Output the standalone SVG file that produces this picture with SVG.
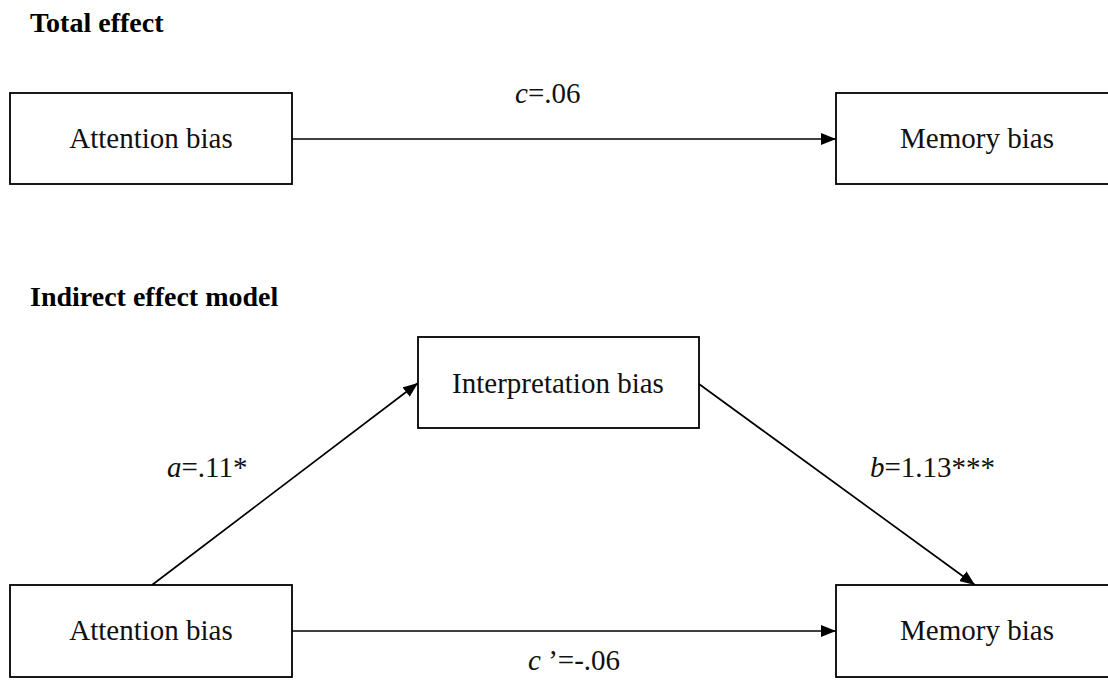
<svg xmlns="http://www.w3.org/2000/svg" width="1108" height="691" viewBox="0 0 1108 691">
<style>
.box{fill:#fff;stroke:#000;stroke-width:1.8}
.t{font-family:"Liberation Serif","Times New Roman",serif;font-size:29px;fill:#111}
.h{font-family:"Liberation Serif","Times New Roman",serif;font-size:28px;font-weight:bold;fill:#000}
.e{stroke:#000;stroke-width:1.7;fill:none;marker-end:url(#ah)}
</style>
<defs>
<marker id="ah" viewBox="0 0 15 12" refX="15" refY="6" markerWidth="15" markerHeight="12" markerUnits="userSpaceOnUse" orient="auto">
<path d="M0,0 L15,6 L0,12 Z" fill="#000"/>
</marker>
</defs>
<rect width="1108" height="691" fill="#fff"/>
<text class="h" x="30" y="32">Total effect</text>
<text class="h" x="30" y="306">Indirect effect model</text>
<g id="connectors">
<line class="e" x1="292" y1="139" x2="836" y2="139"/>
<line class="e" x1="152" y1="585" x2="418" y2="383"/>
<line class="e" x1="699" y1="384" x2="975" y2="585"/>
<line class="e" x1="292" y1="631" x2="836" y2="631"/>
<text class="t" x="515" y="103"><tspan font-style="italic">c</tspan>=.06</text>
<text class="t" x="167" y="477"><tspan font-style="italic">a</tspan>=.11*</text>
<text class="t" x="870" y="477"><tspan font-style="italic">b</tspan>=1.13***</text>
<text class="t" x="528" y="670"><tspan font-style="italic">c</tspan> ’=-.06</text>
</g>
<g id="attention-total">
<rect class="box" x="10" y="93" width="282" height="91"/>
<text class="t" x="151" y="148" text-anchor="middle">Attention bias</text>
</g>
<g id="memory-total">
<rect class="box" x="836" y="93" width="282" height="91"/>
<text class="t" x="977" y="148" text-anchor="middle">Memory bias</text>
</g>
<g id="interpretation">
<rect class="box" x="418" y="337" width="281" height="91"/>
<text class="t" x="558" y="393" text-anchor="middle">Interpretation bias</text>
</g>
<g id="attention-indirect">
<rect class="box" x="10" y="585" width="282" height="92"/>
<text class="t" x="151" y="640" text-anchor="middle">Attention bias</text>
</g>
<g id="memory-indirect">
<rect class="box" x="836" y="585" width="282" height="92"/>
<text class="t" x="977" y="640" text-anchor="middle">Memory bias</text>
</g>
</svg>
